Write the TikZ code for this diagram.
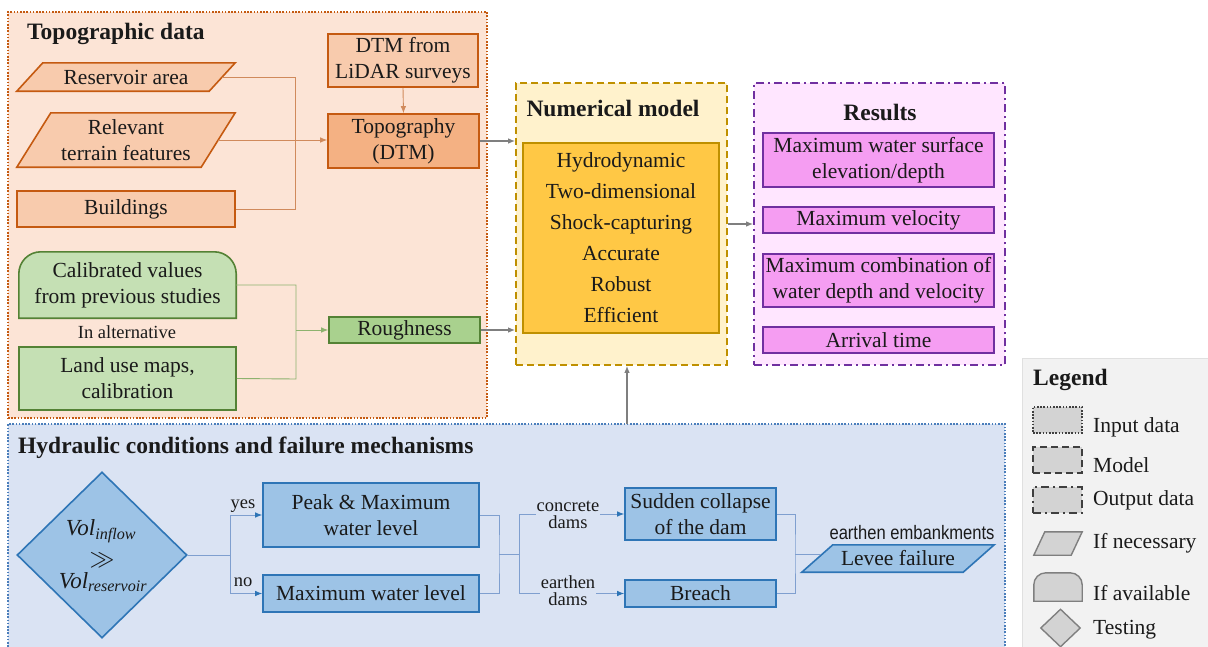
\documentclass[tikz,border=0pt]{standalone}
\usepackage{fontspec}
\setmainfont{Liberation Serif}
\newfontfamily\narrowsans[FakeStretch=0.85]{Liberation Sans}
\usetikzlibrary{arrows.meta,shapes.geometric,backgrounds,calc}
\definecolor{topobg}{HTML}{FCE4D6}
\definecolor{topoln}{HTML}{C55A11}
\definecolor{orfill}{HTML}{F8CBAD}
\definecolor{orfilld}{HTML}{F4B183}
\definecolor{orline}{HTML}{C55A11}
\definecolor{oconn}{HTML}{D08A5C}
\definecolor{grfill}{HTML}{C5E0B4}
\definecolor{grfilld}{HTML}{A9D18E}
\definecolor{grline}{HTML}{548235}
\definecolor{gconn}{HTML}{8DB26E}
\definecolor{modbg}{HTML}{FFF2CC}
\definecolor{modln}{HTML}{BF9000}
\definecolor{goldfill}{HTML}{FFC845}
\definecolor{resbg}{HTML}{FFE6FF}
\definecolor{resln}{HTML}{7030A0}
\definecolor{resfill}{HTML}{F59DF2}
\definecolor{hydbg}{HTML}{DAE3F3}
\definecolor{hydln}{HTML}{4A7EBB}
\definecolor{blfill}{HTML}{9DC3E6}
\definecolor{blline}{HTML}{2E75B6}
\definecolor{hconn}{HTML}{7F9FCF}
\definecolor{mconn}{HTML}{7F7F7F}
\definecolor{legbg}{HTML}{F2F2F2}
\definecolor{legbd}{HTML}{E0E0E0}
\definecolor{legsh}{HTML}{D3D3D3}
\definecolor{legdark}{HTML}{3F3F3F}
\definecolor{leggrey}{HTML}{7F7F7F}
\definecolor{txt}{HTML}{1A1A1A}
\tikzset{
  bodytext/.style={font=\fontsize{21.5}{26}\selectfont, text=txt, align=center, inner sep=0pt},
  titletext/.style={font=\bfseries\fontsize{23.5}{28}\selectfont, text=txt, inner sep=0pt},
  smalltext/.style={font=\fontsize{18.5}{17}\selectfont, text=txt, align=center, inner sep=0.5pt},
  orbox/.style={bodytext, draw=orline, fill=orfill, line width=1.6pt},
  grbox/.style={bodytext, draw=grline, fill=grfill, line width=1.6pt},
  rsbox/.style={bodytext, draw=resln, fill=resfill, line width=1.6pt, minimum width=231},
  blbox/.style={bodytext, draw=blline, fill=blfill, line width=1.6pt},
  region/.style={line width=1.6pt, inner sep=0pt},
  dotline/.style={dash pattern=on 1.6pt off 1.6pt},
  dashline/.style={dash pattern=on 7pt off 4pt},
  dashdotline/.style={dash pattern=on 8pt off 4pt on 2pt off 4pt},
  tip/.style={-{Latex[length=7pt,width=5.5pt]}},
  btip/.style={-{Latex[length=7pt,width=5.5pt,color=blline]}},
  oline/.style={draw=oconn, line width=0.9pt},
  gline/.style={draw=gconn, line width=0.9pt},
  hline/.style={draw=hconn, line width=0.9pt},
  mline/.style={draw=mconn, line width=1.3pt, tip},
  legshape/.style={fill=legsh, draw=legdark, line width=1.4pt, inner sep=0pt},
  legtext/.style={font=\fontsize{21.5}{26}\selectfont, text=txt, inner sep=0pt, anchor=west},
  diatextstyle/.style={inner sep=0pt, text=txt, font=\fontsize{23}{25}\selectfont},
}
\begin{document}
\begin{tikzpicture}[x=1pt,y=-1pt]
\useasboundingbox (0,0) rectangle (1208,646);
% ---------- regions ----------
\begin{scope}[on background layer]
\fill[white] (0,0) rectangle (1208,646);
\node[region, draw=topoln, fill=topobg, dotline, minimum width=479, minimum height=406] (topreg) at (247.5,215) {};
\node[region, draw=hydln, fill=hydbg, dotline, minimum width=997, minimum height=236] (hydreg) at (506.5,542) {};
\node[region, draw=modln, fill=modbg, dashline, minimum width=211, minimum height=282] (modreg) at (621.5,224) {};
\node[region, draw=resln, fill=resbg, dashdotline, minimum width=251, minimum height=282] (resreg) at (879.5,224) {};
\node[region, draw=legbd, fill=legbg, line width=1pt, minimum width=192, minimum height=302] (legreg) at (1118,509) {};
\end{scope}
% ---------- titles ----------
\node[titletext, anchor=west] (toptitle) at (27,34) {Topographic data};
\node[titletext] (modtitle) at (613,108) {Numerical model};
\node[titletext] (restitle) at (880,112) {Results};
\node[titletext, anchor=west] (hydtitle) at (18,448) {Hydraulic conditions and failure mechanisms};
\node[titletext, anchor=west] (legtitle) at (1033,380) {Legend};
% ---------- topographic data ----------
\node[bodytext, minimum width=218, minimum height=28] (res) at (126,77) {Reservoir area};
\node[bodytext, minimum width=218, minimum height=54] (ter) at (126,140) {Relevant\\terrain features};
\node[orbox, minimum width=218, minimum height=36] (bld) at (126,209) {Buildings};
\node[orbox, minimum width=150, minimum height=53] (lidar) at (403,60.5) {DTM from\\LiDAR surveys};
\node[orbox, fill=orfilld, minimum width=151, minimum height=54] (topo) at (403.5,141) {Topography\\(DTM)};
\node[bodytext, minimum width=217, minimum height=66] (cal) at (127.5,285) {Calibrated values\\from previous studies};
\node[smalltext] (alt) at (127,332) {In alternative};
\node[grbox, minimum width=217, minimum height=63] (land) at (127.5,378.5) {Land use maps,\\calibration};
\node[grbox, fill=grfilld, minimum width=151, minimum height=26] (rough) at (404.5,330) {Roughness};
\begin{scope}[on background layer]
\path[draw=orline, fill=orfill, line width=1.6pt] (res.south west) -- ($(res.south east)+(-26,0)$) -- (res.north east) -- ($(res.north west)+(26,0)$) -- cycle;
\path[draw=orline, fill=orfill, line width=1.6pt] (ter.south west) -- ($(ter.south east)+(-34,0)$) -- (ter.north east) -- ($(ter.north west)+(34,0)$) -- cycle;
\path[draw=grline, fill=grfill, line width=1.6pt, rounded corners=22pt] (cal.south west) -- (cal.north west) -- (cal.north east) [sharp corners] -- (cal.south east) -- cycle;
\end{scope}
% ---------- numerical model ----------
\node[bodytext, font=\fontsize{21.5}{31}\selectfont, draw=modln, fill=goldfill, line width=1.6pt, minimum width=196, minimum height=190] (gold) at (621,238)
  {Hydrodynamic\\Two-dimensional\\Shock-capturing\\Accurate\\Robust\\Efficient};
% ---------- results ----------
\node[rsbox, minimum height=54] (r1) at (878.5,160) {Maximum water surface\\elevation/depth};
\node[rsbox, minimum height=26] (r2) at (878.5,220) {Maximum velocity};
\node[rsbox, minimum height=53] (r3) at (878.5,280.5) {Maximum combination of\\water depth and velocity};
\node[rsbox, minimum height=26] (r4) at (878.5,340) {Arrival time};
% ---------- hydraulic ----------
\node[diamond, draw=blline, fill=blfill, line width=1.6pt, minimum width=170, minimum height=166, inner sep=0pt] (dia) at (102,555) {};
\node[diatextstyle] (dt1) at (101,531) {\textit{Vol}\textsubscript{\textit{inflow}}};
\node[diatextstyle] (dt2) at (102,560) {$\gg$};
\node[diatextstyle] (dt3) at (103,582) {\textit{Vol}\textsubscript{\textit{reservoir}}};
\node[blbox, minimum width=216, minimum height=64] (peak) at (371,515) {Peak \& Maximum\\water level};
\node[blbox, minimum width=216, minimum height=37] (mwl) at (371,593.5) {Maximum water level};
\node[blbox, minimum width=151, minimum height=52] (sud) at (700.5,514) {Sudden collapse\\of the dam};
\node[blbox, minimum width=151, minimum height=27] (bre) at (700.5,593.5) {Breach};
\node[bodytext, minimum width=192, minimum height=27] (lev) at (898,558.5) {Levee failure};
\begin{scope}[on background layer]
\path[draw=blline, fill=blfill, line width=1.6pt] (lev.south west) -- ($(lev.south east)+(-31,0)$) -- (lev.north east) -- ($(lev.north west)+(31,0)$) -- cycle;
\end{scope}
\node[inner sep=0pt, text=txt, font=\narrowsans\fontsize{19.5}{20}\selectfont] (emb) at (912,533) {earthen embankments};
% ---------- connectors: topographic ----------
\coordinate (jt1) at (295,77);
\coordinate (jt2) at (295,209);
\draw[oline] ($(res.east)+(-13,0)$) -- (jt1) -- (jt2) -- (bld.east);
\draw[oline, tip] ($(ter.east)+(-17,0)$) -- (ter.east -| topo.west);
\draw[oline, tip] (lidar.south) -- (topo.north);
\coordinate (jg1) at (296,285);
\coordinate (jg2) at (296,379);
\coordinate (jg3) at (296,330);
\draw[gline] (cal.east) -- (jg1) -- (jg2) -- (land.east);
\draw[gline, tip] (jg3) -- (rough.west);
% ---------- connectors: model ----------
\draw[mline] (topo.east) -- (topo.east -| modreg.west);
\draw[mline] (rough.east) -- (rough.east -| modreg.west);
\draw[mline] (modreg.east) -- (resreg.west);
\coordinate (up) at (627,424);
\draw[mline] (up) -- (up |- modreg.south);
% ---------- connectors: hydraulic ----------
\coordinate (h1) at (230,555);
\draw[hline] (dia.east) -- (h1);
\draw[hline, btip] (h1) |- (peak.west);
\draw[hline, btip] (h1) |- (mwl.west);
\node[smalltext] (yes) at (243,506) {yes};
\node[smalltext] (no) at (243,582) {no};
\coordinate (h2) at (499,554);
\coordinate (h3) at (519,554);
\draw[hline] (peak.east) -| (h2) |- (mwl.east);
\draw[hline] (h2) -- (h3);
\draw[hline, btip] (h3) |- (sud.west);
\draw[hline, btip] (h3) |- (bre.west);
\node[smalltext, fill=hydbg] (conc) at (568,515) {concrete\\dams};
\node[smalltext, fill=hydbg] (earth) at (568,591) {earthen\\dams};
\coordinate (h4) at (795,554);
\draw[hline] (sud.east) -| (h4) |- (bre.east);
\draw[hline] (h4) -- ($(h4 -| lev.west)+(19,0)$);
% ---------- legend ----------
\node[legshape, dotline, minimum width=49, minimum height=26] (lg1) at (1057.5,420) {};
\node[legshape, dashline, minimum width=49, minimum height=26] (lg2) at (1057.5,460) {};
\node[legshape, dashdotline, minimum width=49, minimum height=26] (lg3) at (1057.5,500) {};
\node[inner sep=0pt, minimum width=48, minimum height=23] (lg4) at (1058,543.5) {};
\node[inner sep=0pt, minimum width=48, minimum height=28] (lg5) at (1058,587) {};
\node[diamond, fill=legsh, draw=leggrey, line width=1.4pt, inner sep=0pt, minimum width=40, minimum height=38] (lg6) at (1060.5,628) {};
\path[fill=legsh, draw=leggrey, line width=1.4pt] (lg4.south west) -- ($(lg4.south east)+(-11,0)$) -- (lg4.north east) -- ($(lg4.north west)+(11,0)$) -- cycle;
\path[fill=legsh, draw=leggrey, line width=1.4pt, rounded corners=12pt] (lg5.south west) -- (lg5.north west) -- (lg5.north east) [sharp corners] -- (lg5.south east) -- cycle;
\node[legtext] (lt1) at (1093,427) {Input data};
\node[legtext] (lt2) at (1093,465) {Model};
\node[legtext] (lt3) at (1093,500) {Output data};
\node[legtext] (lt4) at (1093,543) {If necessary};
\node[legtext] (lt5) at (1093,593) {If available};
\node[legtext] (lt6) at (1093,630) {Testing};
\end{tikzpicture}
\end{document}
